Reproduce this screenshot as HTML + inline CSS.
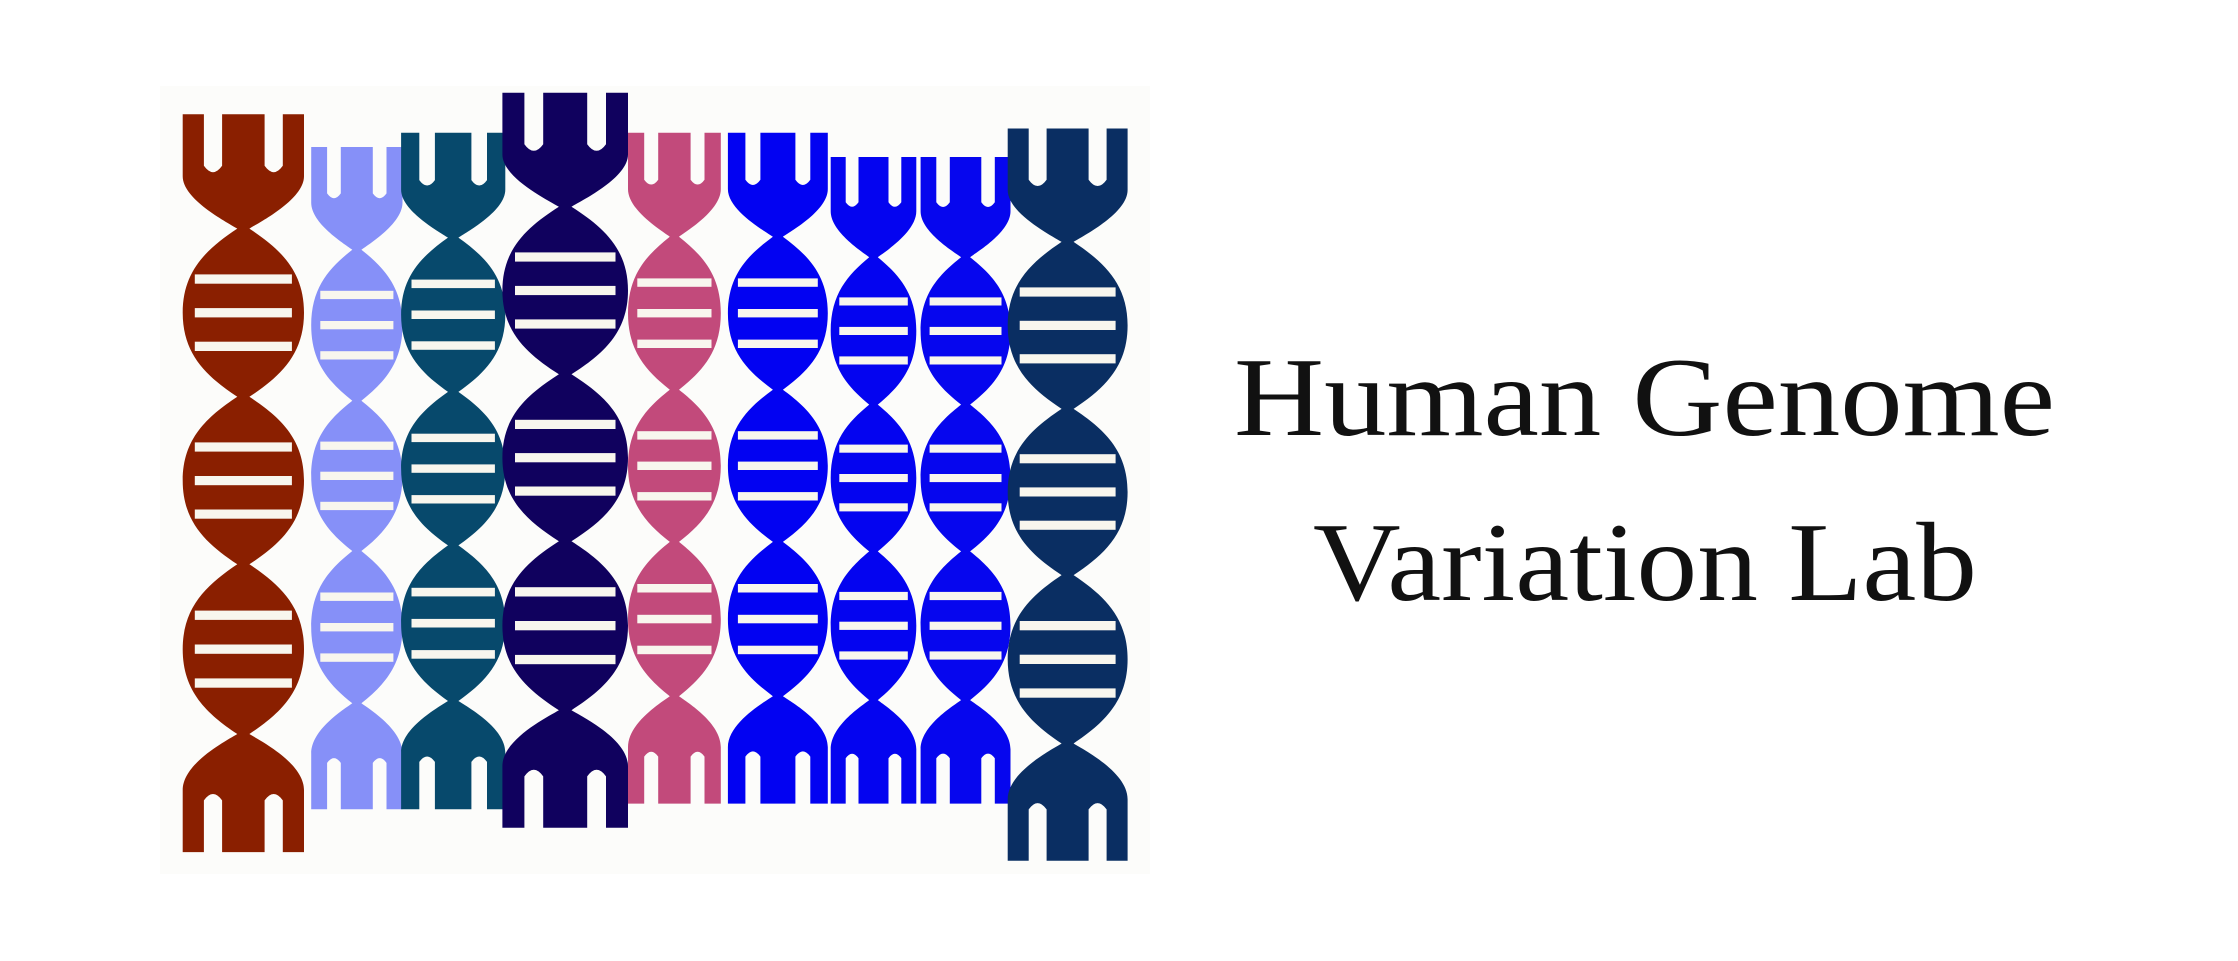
<!DOCTYPE html>
<html><head><meta charset="utf-8"><title>Human Genome Variation Lab</title>
<style>html,body{margin:0;padding:0;background:#fff;}svg{display:block;}</style></head>
<body>
<svg id="logo" xmlns="http://www.w3.org/2000/svg" width="2238" height="961" viewBox="0 0 2238 961">
<rect x="0" y="0" width="2238" height="961" fill="#ffffff"/>
<rect x="160" y="86" width="990" height="788" fill="#fcfcfa"/>
<g id="strands"></g>
<text x="1234" y="435" textLength="821" lengthAdjust="spacingAndGlyphs" font-family="'Liberation Serif', serif" font-size="112" fill="#111">Human Genome</text>
<text x="1313" y="600" textLength="664" lengthAdjust="spacingAndGlyphs" font-family="'Liberation Serif', serif" font-size="112" fill="#111">Variation Lab</text>
</svg>
<script>
// strand data (in display units of a 1568-wide copy)
const strandColors = ['#8a1f00','#8690f8','#07496c','#10015e','#c24a7b','#0202f2','#0404f0','#0606ee','#0a2e62'];
const strandLeft   = [128,218,281,352,440,510,582,645,706];
const strandRight  = [213,282,354,440,505,580,642,708,790];
const strandTop    = [80,103,93,65,93,93,110,110,90];
const strandBottom = [597,567,567,580,563,563,563,563,603];
const S = 2238/1568;
const g = document.getElementById('strands');
const NS = 'http://www.w3.org/2000/svg';
function P(x,y){return (x*S).toFixed(1)+','+(y*S).toFixed(1);}
strandColors.forEach((col,i)=>{
  const l=strandLeft[i], r=strandRight[i], t=strandTop[i], b=strandBottom[i];
  const c=(l+r)/2, w=(r-l)/2, H=b-t;
  const necks=[0.155,0.383,0.61,0.84].map(f=>t+f*H);
  const nw=w*0.1, fd=0.07*H;
  const nx1=c-w*0.5, nx2=c+w*0.5, nwid=w*0.3;
  let d='M'+P(l,t);
  d+=' L'+P(nx1-nwid/2,t)+' L'+P(nx1-nwid/2,t+fd)+' Q'+P(nx1,t+fd+nwid*0.7)+' '+P(nx1+nwid/2,t+fd)+' L'+P(nx1+nwid/2,t);
  d+=' L'+P(nx2-nwid/2,t)+' L'+P(nx2-nwid/2,t+fd)+' Q'+P(nx2,t+fd+nwid*0.7)+' '+P(nx2+nwid/2,t+fd)+' L'+P(nx2+nwid/2,t);
  d+=' L'+P(r,t)+' L'+P(r,t+fd*1.2);
  d+=' C'+P(r,necks[0]-0.04*H)+' '+P(c+w*0.3,necks[0]-0.01*H)+' '+P(c+nw,necks[0]);
  for(let k=0;k<3;k++){const n0=necks[k],n1=necks[k+1],m=(n0+n1)/2,sp=n1-n0;
    d+=' C'+P(c+w*0.6,n0+sp*0.12)+' '+P(r,m-sp*0.25)+' '+P(r,m);
    d+=' C'+P(r,m+sp*0.25)+' '+P(c+w*0.6,n1-sp*0.12)+' '+P(c+nw,n1);}
  d+=' C'+P(c+w*0.3,necks[3]+0.01*H)+' '+P(r,necks[3]+0.04*H)+' '+P(r,b-fd*1.2)+' L'+P(r,b);
  d+=' L'+P(nx2+nwid/2,b)+' L'+P(nx2+nwid/2,b-fd)+' Q'+P(nx2,b-fd-nwid*0.7)+' '+P(nx2-nwid/2,b-fd)+' L'+P(nx2-nwid/2,b);
  d+=' L'+P(nx1+nwid/2,b)+' L'+P(nx1+nwid/2,b-fd)+' Q'+P(nx1,b-fd-nwid*0.7)+' '+P(nx1-nwid/2,b-fd)+' L'+P(nx1-nwid/2,b);
  d+=' L'+P(l,b)+' L'+P(l,b-fd*1.2);
  d+=' C'+P(l,necks[3]+0.04*H)+' '+P(c-w*0.3,necks[3]+0.01*H)+' '+P(c-nw,necks[3]);
  for(let k=3;k>0;k--){const n0=necks[k],n1=necks[k-1],m=(n0+n1)/2,sp=n0-n1;
    d+=' C'+P(c-w*0.6,n0-sp*0.12)+' '+P(l,m+sp*0.25)+' '+P(l,m);
    d+=' C'+P(l,m-sp*0.25)+' '+P(c-w*0.6,n1+sp*0.12)+' '+P(c-nw,n1);}
  d+=' C'+P(c-w*0.3,necks[0]-0.01*H)+' '+P(l,necks[0]-0.04*H)+' '+P(l,t+fd*1.2)+' Z';
  const p=document.createElementNS(NS,'path');
  p.setAttribute('d',d);p.setAttribute('fill',col);
  
  
  g.appendChild(p);
  for(let k=0;k<3;k++){
    const m=(necks[k]+necks[k+1])/2, span=necks[k+1]-necks[k];
    for(let j=-1;j<=1;j++){
      const y=m+j*span*0.2, bh=span*0.055;
      const rr=document.createElementNS(NS,'rect');
      rr.setAttribute('x',((c-w*0.8)*S).toFixed(1));
      rr.setAttribute('y',((y-bh/2)*S).toFixed(1));
      rr.setAttribute('width',(w*1.6*S).toFixed(1));
      rr.setAttribute('height',(bh*S).toFixed(1));
      rr.setAttribute('fill','#f8f6ee');
      
      
      g.appendChild(rr);
    }
  }
});
</script>
</body></html>
